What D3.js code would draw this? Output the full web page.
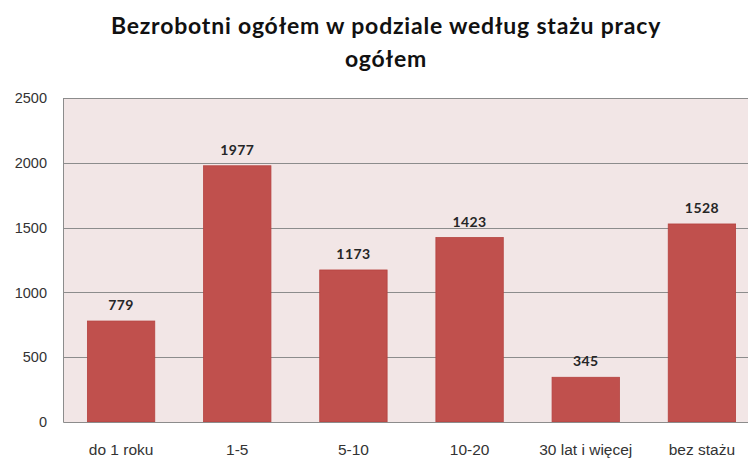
<!DOCTYPE html>
<html>
<head>
<meta charset="utf-8">
<script src="https://cdn.jsdelivr.net/npm/d3@7"></script>
<style>
  body { margin: 0; background: #fff; }
  svg { display: block; font-family: Lato, "Open Sans", sans-serif; }
</style>
</head>
<body>
<svg width="748" height="458"></svg>
<script>
var categories = ["do 1 roku", "1-5", "5-10", "10-20", "30 lat i więcej", "bez stażu"];
var values = [779, 1977, 1173, 1423, 345, 1528];
var yTicks = [0, 500, 1000, 1500, 2000, 2500];
var titleLines = ["Bezrobotni ogółem w podziale według stażu pracy", "ogółem"];

var svg = d3.select("svg"),
  margin = {top: 98, right: -12, bottom: 36, left: 63},
  width = +svg.attr("width") - margin.left - margin.right,
  height = +svg.attr("height") - margin.top - margin.bottom,
  g = svg.append("g").attr("transform", "translate(" + margin.left + "," + margin.top + ")");

var x = d3.scaleBand()
  .domain(categories)
  .range([0, width])
  .paddingInner(0.42)
  .paddingOuter(0.21);

var y = d3.scaleLinear()
  .domain([0, 2500])
  .range([height, 0]);

// plot area background
g.append("rect")
  .attr("width", width)
  .attr("height", height)
  .attr("fill", "#f2e6e6");

// grid lines
g.append("g")
  .selectAll("line")
  .data(yTicks.slice(1))
  .enter().append("line")
    .attr("x1", 0)
    .attr("x2", width)
    .attr("y1", function(d) { return Math.round(y(d)) + 0.5; })
    .attr("y2", function(d) { return Math.round(y(d)) + 0.5; })
    .attr("stroke", "#8c8c8c");

g.append("g")
  .selectAll("rect")
  .data(values)
  .enter().append("rect")
    .attr("x", function(d, i) { return x(categories[i]); })
    .attr("y", function(d) { return y(d); })
    .attr("width", x.bandwidth())
    .attr("height", function(d) { return y(0) - y(d); })
    .attr("fill", "#c0504d")
    .attr("stroke", "#b5423f")
    .attr("stroke-width", 0.8);

g.append("g")
  .selectAll("text")
  .data(values)
  .enter().append("text")
    .attr("x", function(d, i) { return x(categories[i]) + x.bandwidth() / 2; })
    .attr("y", function(d) { return y(d) - 11; })
    .attr("text-anchor", "middle")
    .attr("font-size", 14)
    .attr("font-weight", "bold")
    .attr("letter-spacing", 0.4)
    .attr("fill", "#262626")
    .text(function(d) { return d; });

var xAxis = g.append("g")
  .attr("transform", "translate(0," + height + ")")
  .call(d3.axisBottom(x).tickSize(0));
xAxis.select(".domain").attr("stroke", "#8c8c8c");
xAxis.selectAll("text")
  .attr("y", 33)
  .attr("dy", null)
  .attr("font-size", 15.5)
  .attr("fill", "#333")
  .attr("font-family", "inherit");

var yAxis = g.append("g")
  .call(d3.axisLeft(y).tickValues(yTicks).tickFormat(d3.format("d")).tickSize(0).tickPadding(16));
yAxis.select(".domain").attr("stroke", "#8c8c8c");
yAxis.selectAll("text").attr("font-size", 14.5).attr("fill", "#333").attr("font-family", "inherit");

svg.append("g")
  .attr("font-size", 23)
  .attr("font-weight", "bold")
  .attr("letter-spacing", 0.8)
  .attr("text-anchor", "middle")
  .attr("fill", "#111")
  .selectAll("text")
  .data(titleLines)
  .enter().append("text")
    .attr("x", 386)
    .attr("y", function(d, i) { return 34 + i * 33; })
    .text(function(d) { return d; });
</script>
</body>
</html>
